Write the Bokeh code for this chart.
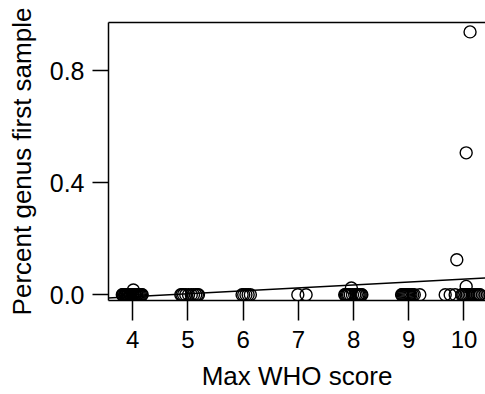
from bokeh.plotting import figure
from bokeh.models import LinearAxis, Range1d, Slope, FixedTicker, NumeralTickFormatter
from bokeh.embed import file_html
from bokeh.resources import INLINE

# Jittered Max WHO score (x) and percent genus in first sample (y)
x_score4 = [3.81, 3.82, 3.83, 3.85, 3.86, 3.87, 3.88, 3.90, 3.91, 3.92, 3.94, 3.95, 3.96,
            3.97, 3.99, 4.00, 4.01, 4.03, 4.04, 4.05, 4.07, 4.08, 4.10, 4.12, 4.14, 4.16, 4.17, 4.01]
y_score4 = [0] * 27 + [0.017]
x_score5 = [4.87, 4.89, 4.92, 4.96, 5.01, 5.06, 5.10, 5.14, 5.17, 5.19]
y_score5 = [0] * 10
x_score6 = [5.98, 6.01, 6.05, 6.09, 6.13]
y_score6 = [0] * 5
x_score7 = [6.99, 7.14]
y_score7 = [0, 0]
x_score8 = [7.84, 7.85, 7.87, 7.89, 7.91, 7.94, 7.98, 8.02, 8.05, 8.08, 8.10, 8.12, 8.14, 8.15, 7.96]
y_score8 = [0] * 14 + [0.024]
x_score9 = [8.87, 8.88, 8.90, 8.92, 8.94, 8.96, 8.98, 9.00, 9.02, 9.04, 9.07, 9.10, 9.20]
y_score9 = [0] * 13
x_score10 = [9.66, 9.75, 9.84, 9.96, 9.98, 10.00, 10.03, 10.06, 10.09, 10.12, 10.15, 10.18,
             10.21, 10.24, 10.27, 10.29, 10.04, 9.87, 10.04, 10.11]
y_score10 = [0] * 16 + [0.03, 0.125, 0.507, 0.939]

x_ticks = [4, 5, 6, 7, 8, 9, 10]
y_ticks = [0.0, 0.4, 0.8]
fit_coef = [-0.049, 0.0105]  # intercept, slope of the fitted line

xs = x_score4 + x_score5 + x_score6 + x_score7 + x_score8 + x_score9 + x_score10
ys = y_score4 + y_score5 + y_score6 + y_score7 + y_score8 + y_score9 + y_score10

FONT = "Liberation Sans"

p = figure(width=485, height=394, output_backend="svg", toolbar_location=None,
           x_range=Range1d(3.56, 10.39), y_range=Range1d(-0.0204, 0.9725),
           min_border_left=108, min_border_top=22, min_border_bottom=94, min_border_right=0)
p.outline_line_color = None
p.grid.visible = False
p.background_fill_color = "white"
p.border_fill_color = "white"

p.scatter(xs, ys, marker="circle", size=12, fill_color=None, line_color="black", line_width=1.4)
p.add_layout(Slope(gradient=fit_coef[1], y_intercept=fit_coef[0], line_color="black", line_width=1.5))

xax = p.below[0]
yax = p.left[0]
for ax in (xax, yax):
    ax.axis_line_width = 1.5
    ax.axis_line_color = "black"
    ax.major_tick_line_width = 1.5
    ax.major_tick_line_color = "black"
    ax.major_tick_in = 0
    ax.minor_tick_line_color = None
    ax.major_label_text_font = FONT
    ax.major_label_text_color = "black"
    ax.axis_label_text_font = FONT
    ax.axis_label_text_font_style = "normal"
    ax.axis_label_text_color = "black"
    ax.axis_label_text_font_size = "26px"

xax.ticker = FixedTicker(ticks=x_ticks)
yax.ticker = FixedTicker(ticks=y_ticks)
yax.formatter = NumeralTickFormatter(format="0.0")
xax.major_label_text_font_size = "24px"
yax.major_label_text_font_size = "25px"
xax.major_tick_out = 20
yax.major_tick_out = 16
xax.major_label_standoff = 10
yax.major_label_standoff = 8
xax.axis_label = "Max WHO score"
yax.axis_label = "Percent genus first sample"
xax.axis_label_standoff = 10
yax.axis_label_standoff = 10

top = LinearAxis(ticker=FixedTicker(ticks=[]), axis_line_width=1.5, axis_line_color="black",
                 major_tick_out=0, major_tick_in=0, minor_tick_out=0, minor_tick_in=0,
                 major_label_standoff=0, major_label_text_font_size="0px")
p.add_layout(top, "above")

open("out.html", "w").write(file_html(p, INLINE))
